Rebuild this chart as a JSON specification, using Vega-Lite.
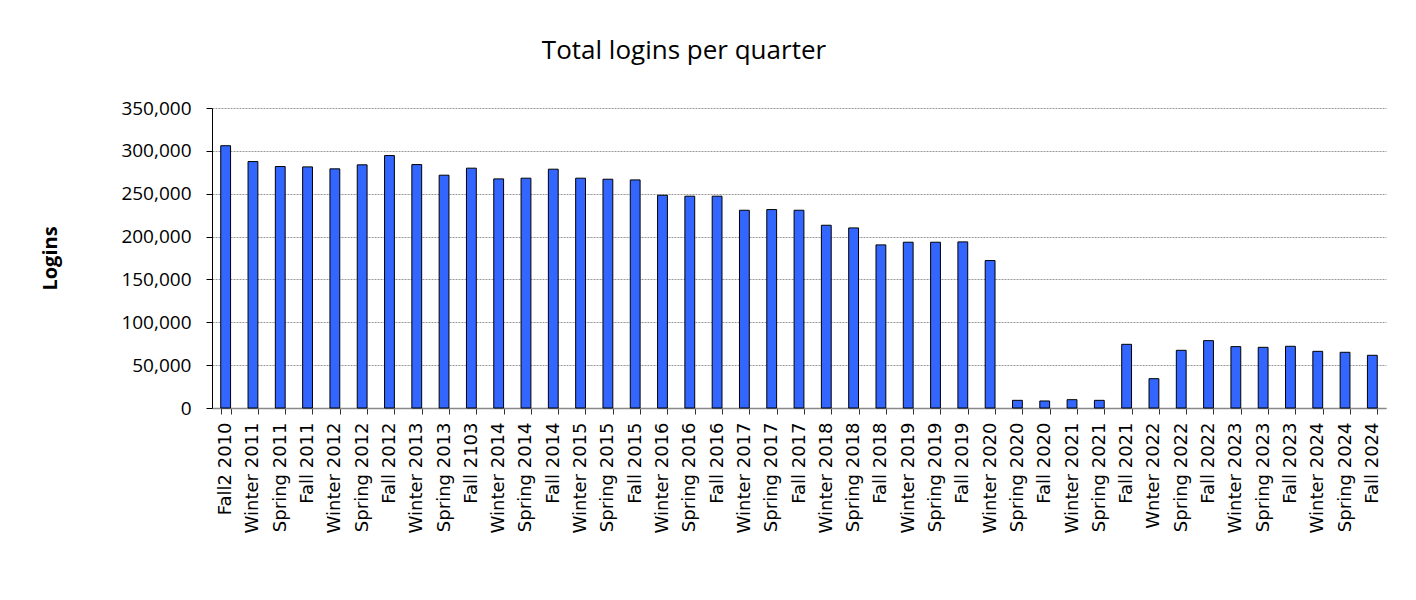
{
  "$schema": "https://vega.github.io/schema/vega-lite/v6.json",
  "autosize": {"type": "none"},
  "padding": {"left": 212, "top": 108, "right": 30, "bottom": 192},
  "width": 1174,
  "height": 300,
  "background": "white",
  "title": {
    "text": "Total logins per quarter",
    "font": "Open Sans",
    "fontSize": 26,
    "fontWeight": "normal",
    "color": "black",
    "anchor": "middle",
    "frame": "group",
    "baseline": "middle",
    "offset": 22,
    "dx": -115
  },
  "data": {
    "values": [
      {"quarter": "Fall2 2010", "logins": 306000},
      {"quarter": "Winter 2011", "logins": 287500},
      {"quarter": "Spring 2011", "logins": 281700},
      {"quarter": "Fall 2011", "logins": 281300},
      {"quarter": "Winter 2012", "logins": 279000},
      {"quarter": "Spring 2012", "logins": 283700},
      {"quarter": "Fall 2012", "logins": 294500},
      {"quarter": "Winter 2013", "logins": 284000},
      {"quarter": "Spring 2013", "logins": 271600},
      {"quarter": "Fall 2103", "logins": 279800},
      {"quarter": "Winter 2014", "logins": 267300},
      {"quarter": "Spring 2014", "logins": 268100},
      {"quarter": "Fall 2014", "logins": 278600},
      {"quarter": "Winter 2015", "logins": 268100},
      {"quarter": "Spring 2015", "logins": 266900},
      {"quarter": "Fall 2015", "logins": 266100},
      {"quarter": "Winter 2016", "logins": 248200},
      {"quarter": "Spring 2016", "logins": 247100},
      {"quarter": "Fall 2016", "logins": 247100},
      {"quarter": "Winter 2017", "logins": 230700},
      {"quarter": "Spring 2017", "logins": 231500},
      {"quarter": "Fall 2017", "logins": 230700},
      {"quarter": "Winter 2018", "logins": 213200},
      {"quarter": "Spring 2018", "logins": 210100},
      {"quarter": "Fall 2018", "logins": 190300},
      {"quarter": "Winter 2019", "logins": 193400},
      {"quarter": "Spring 2019", "logins": 193400},
      {"quarter": "Fall 2019", "logins": 193800},
      {"quarter": "Winter 2020", "logins": 172000},
      {"quarter": "Spring 2020", "logins": 8950},
      {"quarter": "Fall 2020", "logins": 8200},
      {"quarter": "Winter 2021", "logins": 9700},
      {"quarter": "Spring 2021", "logins": 8950},
      {"quarter": "Fall 2021", "logins": 74300},
      {"quarter": "Wnter 2022", "logins": 34200},
      {"quarter": "Spring 2022", "logins": 67300},
      {"quarter": "Fall 2022", "logins": 78600},
      {"quarter": "Winter 2023", "logins": 71600},
      {"quarter": "Spring 2023", "logins": 70800},
      {"quarter": "Fall 2023", "logins": 72000},
      {"quarter": "Winter 2024", "logins": 66100},
      {"quarter": "Spring 2024", "logins": 65000},
      {"quarter": "Fall 2024", "logins": 61500}
    ]
  },
  "mark": {"type": "bar", "color": "#3366FF", "stroke": "black", "strokeWidth": 1},
  "encoding": {
    "x": {
      "field": "quarter",
      "type": "nominal",
      "sort": null,
      "scale": {"paddingInner": 0.64, "paddingOuter": 0.32},
      "axis": {
        "title": null,
        "labelAngle": -90,
        "labelAlign": "right",
        "labelBaseline": "middle",
        "labelFont": "DejaVu Sans",
        "labelFontSize": 18,
        "labelColor": "black",
        "labelPadding": 8,
        "tickBand": "extent",
        "tickSize": 6,
        "tickColor": "#333333",
        "domainColor": "#888888",
        "domainWidth": 1.5,
        "grid": false
      }
    },
    "y": {
      "field": "logins",
      "type": "quantitative",
      "scale": {"domain": [0, 350000], "nice": false},
      "axis": {
        "title": "Logins",
        "titleFont": "Open Sans",
        "titleFontSize": 20,
        "titleFontWeight": "bold",
        "titleColor": "black",
        "titleAngle": -90,
        "titleX": -162,
        "titleY": 150,
        "titleAlign": "center",
        "titleBaseline": "middle",
        "values": [0, 50000, 100000, 150000, 200000, 250000, 300000, 350000],
        "format": ",d",
        "labelFont": "Open Sans",
        "labelFontSize": 19,
        "labelColor": "black",
        "labelPadding": 15,
        "tickSize": 6,
        "tickColor": "black",
        "domainColor": "black",
        "grid": true,
        "gridColor": "#999999",
        "gridDash": [2, 1],
        "gridWidth": 1
      }
    }
  },
  "config": {
    "view": {"stroke": null}
  }
}
